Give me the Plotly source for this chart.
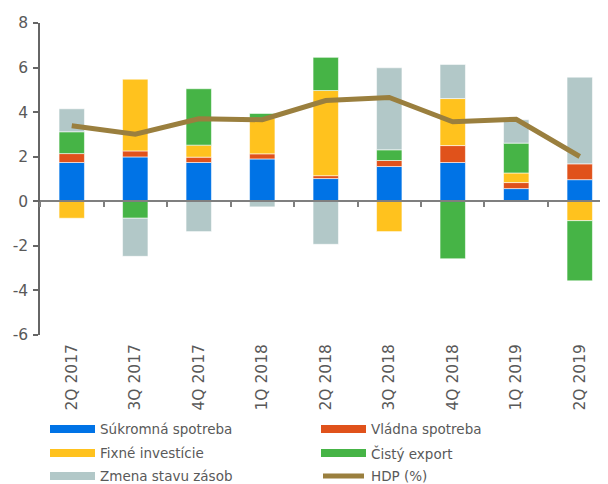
import plotly.graph_objects as go

categories = ["2Q 2017", "3Q 2017", "4Q 2017", "1Q 2018", "2Q 2018",
              "3Q 2018", "4Q 2018", "1Q 2019", "2Q 2019"]
sukromna = [1.74, 1.99, 1.74, 1.90, 1.02, 1.56, 1.74, 0.57, 0.97]
vladna = [0.40, 0.27, 0.24, 0.23, 0.13, 0.27, 0.76, 0.27, 0.71]
fixne = [-0.76, 3.22, 0.54, 1.59, 3.82, -1.36, 2.11, 0.43, -0.87]
export = [0.98, -0.76, 2.53, 0.22, 1.49, 0.48, -2.58, 1.34, -2.70]
zasoby = [1.03, -1.71, -1.36, -0.25, -1.93, 3.68, 1.53, 1.05, 3.89]
hdp = [3.39, 3.01, 3.70, 3.66, 4.52, 4.66, 3.57, 3.68, 2.01]

series_names = ["Súkromná spotreba", "Vládna spotreba", "Fixné investície",
                "Čistý export", "Zmena stavu zásob"]
line_name = "HDP (%)"
y_ticks = [-6, -4, -2, 0, 2, 4, 6, 8]
y_tick_labels = [str(v) for v in y_ticks]

colors = ["#0073E6", "#E0521B", "#FFC21E", "#46B446", "#B2C8C8"]
line_color = "#9A7F3E"
text_color = "#595959"
font_family = "DejaVu Sans"

fig = go.Figure()
for name, vals, col in zip(series_names, [sukromna, vladna, fixne, export, zasoby], colors):
    fig.add_trace(go.Bar(
        x=categories, y=vals, name=name, showlegend=False,
        marker=dict(color=col, line=dict(color="rgba(255,255,255,0.7)", width=0.8)),
        width=0.4,
    ))

fig.add_trace(go.Scatter(
    x=categories, y=hdp, name=line_name, mode="lines", showlegend=False,
    line=dict(color=line_color, width=5), xaxis="x2", yaxis="y",
))

# page has an 8px body margin; figure is drawn 8px in from the top-left
OFF = 8
W, H = 600, 476
L, R, T, B = 32, 0, 15, 149
ph = H - T - B
pw = W - L - R

fig.update_layout(
    width=W, height=H,
    margin=dict(l=L, r=R, t=T, b=B, autoexpand=False),
    paper_bgcolor="white", plot_bgcolor="white",
    barmode="relative",
    font=dict(family=font_family, size=15.5, color=text_color),
    xaxis=dict(
        type="category", categoryorder="array", categoryarray=categories,
        range=[-0.5, 8.445], showline=False, ticks="", showgrid=False,
        zeroline=False, tickangle=-90, tickfont=dict(size=15.5, color=text_color),
        ticklabelstandoff=5, automargin=False,
    ),
    xaxis2=dict(
        type="category", categoryorder="array", categoryarray=categories,
        overlaying="x", matches="x", anchor="free", position=6 / 14,
        showline=True, linecolor="#7f7f7f", linewidth=1.5,
        ticks="outside", ticklen=5, tickcolor="#7f7f7f", tickwidth=1.5,
        tickson="boundaries", showticklabels=False, showgrid=False,
        zeroline=False,
    ),
    yaxis=dict(
        range=[-6, 8], tickvals=y_ticks, ticktext=y_tick_labels,
        showgrid=False, zeroline=False,
        showline=True, linecolor="#666666", linewidth=1.5,
        ticks="outside", ticklen=5, tickcolor="#666666", tickwidth=1.5,
        tickfont=dict(size=15.5, color=text_color), ticklabelstandoff=2,
        automargin=False,
    ),
)

# Custom legend (two columns), positions in page pixels
legend_items = [
    (series_names[0], colors[0], "bar", 50, 429),
    (series_names[1], colors[1], "bar", 321, 429),
    (series_names[2], colors[2], "bar", 50, 453),
    (series_names[3], colors[3], "bar", 321, 453),
    (series_names[4], colors[4], "bar", 50, 476),
    (line_name, line_color, "line", 321, 476),
]

def px_x(x):
    return (x - OFF - L) / pw

def px_y(y):
    return (H - B - (y - OFF)) / ph

for text, col, kind, x0, yc in legend_items:
    if kind == "bar":
        fig.add_shape(type="rect", xref="paper", yref="paper",
                      x0=px_x(x0), x1=px_x(x0 + 45), y0=px_y(yc + 4), y1=px_y(yc - 4),
                      fillcolor=col, line=dict(width=0))
    else:
        fig.add_shape(type="line", xref="paper", yref="paper",
                      x0=px_x(x0 + 2), x1=px_x(x0 + 43), y0=px_y(yc), y1=px_y(yc),
                      line=dict(color=col, width=5))
    fig.add_annotation(text=text, xref="paper", yref="paper",
                       x=px_x(x0 + 48), y=px_y(yc), xanchor="left", yanchor="middle",
                       showarrow=False, font=dict(size=13.5, color=text_color, family=font_family))

fig.write_html("out.html")
